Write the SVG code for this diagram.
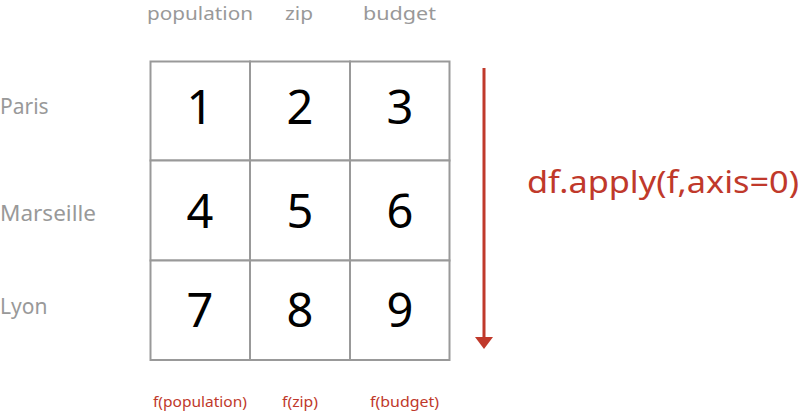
<svg xmlns="http://www.w3.org/2000/svg" width="800" height="412" viewBox="0 0 800 412">
<defs>
<style>
.hdr{font-family:"Noto Sans","Liberation Sans",sans-serif;font-size:18.5px;fill:#999;}
.row{font-family:"Noto Sans","Liberation Sans",sans-serif;font-size:21px;fill:#999;}
.cell{fill:#fff;stroke:#999;stroke-width:2;}
.num{font-family:"Noto Sans","Liberation Sans",sans-serif;font-size:47px;fill:#000;text-anchor:middle;}
.fn{font-family:"Noto Sans","Liberation Sans",sans-serif;font-size:15px;fill:#c0392b;}
.big{font-family:"Noto Sans","Liberation Sans",sans-serif;font-size:30px;fill:#c0392b;}
</style>
<marker id="ah" markerWidth="4" markerHeight="6" refX="0" refY="3" orient="auto" markerUnits="strokeWidth">
<path d="M0,0 L4,3 L0,6 Z" fill="#c0392b"/>
</marker>
</defs>
<rect width="800" height="412" fill="#fff"/>
<g id="headers">
<text class="hdr" x="147" y="20" textLength="106" lengthAdjust="spacingAndGlyphs">population</text>
<text class="hdr" x="285" y="20" textLength="28" lengthAdjust="spacingAndGlyphs">zip</text>
<text class="hdr" x="363" y="20" textLength="73" lengthAdjust="spacingAndGlyphs">budget</text>
</g>
<g id="rows">
<text class="row" x="0" y="114">Paris</text>
<text class="row" x="0" y="221" textLength="96" lengthAdjust="spacingAndGlyphs">Marseille</text>
<text class="row" x="0" y="314">Lyon</text>
</g>
<g id="c1"><rect class="cell" x="150.5" y="61.5" width="99.5" height="99"/><text class="num" x="200" y="124">1</text></g>
<g id="c2"><rect class="cell" x="250" y="61.5" width="100" height="99"/><text class="num" x="300" y="124">2</text></g>
<g id="c3"><rect class="cell" x="350" y="61.5" width="99.5" height="99"/><text class="num" x="400" y="124">3</text></g>
<g id="c4"><rect class="cell" x="150.5" y="160.5" width="99.5" height="100"/><text class="num" x="200" y="228">4</text></g>
<g id="c5"><rect class="cell" x="250" y="160.5" width="100" height="100"/><text class="num" x="300" y="228">5</text></g>
<g id="c6"><rect class="cell" x="350" y="160.5" width="99.5" height="100"/><text class="num" x="400" y="228">6</text></g>
<g id="c7"><rect class="cell" x="150.5" y="260.5" width="99.5" height="99.5"/><text class="num" x="200" y="327">7</text></g>
<g id="c8"><rect class="cell" x="250" y="260.5" width="100" height="99.5"/><text class="num" x="300" y="327">8</text></g>
<g id="c9"><rect class="cell" x="350" y="260.5" width="99.5" height="99.5"/><text class="num" x="400" y="327">9</text></g>
<g id="connectors">
<line x1="484" y1="68" x2="484" y2="337" stroke="#c0392b" stroke-width="3" marker-end="url(#ah)"/>
</g>
<g id="label">
<text class="big" x="527" y="193" textLength="272" lengthAdjust="spacingAndGlyphs">df.apply(f,axis=0)</text>
</g>
<g id="results">
<text class="fn" x="153" y="407" textLength="94" lengthAdjust="spacingAndGlyphs">f(population)</text>
<text class="fn" x="282" y="407" textLength="36" lengthAdjust="spacingAndGlyphs">f(zip)</text>
<text class="fn" x="370" y="407" textLength="69" lengthAdjust="spacingAndGlyphs">f(budget)</text>
</g>
</svg>
